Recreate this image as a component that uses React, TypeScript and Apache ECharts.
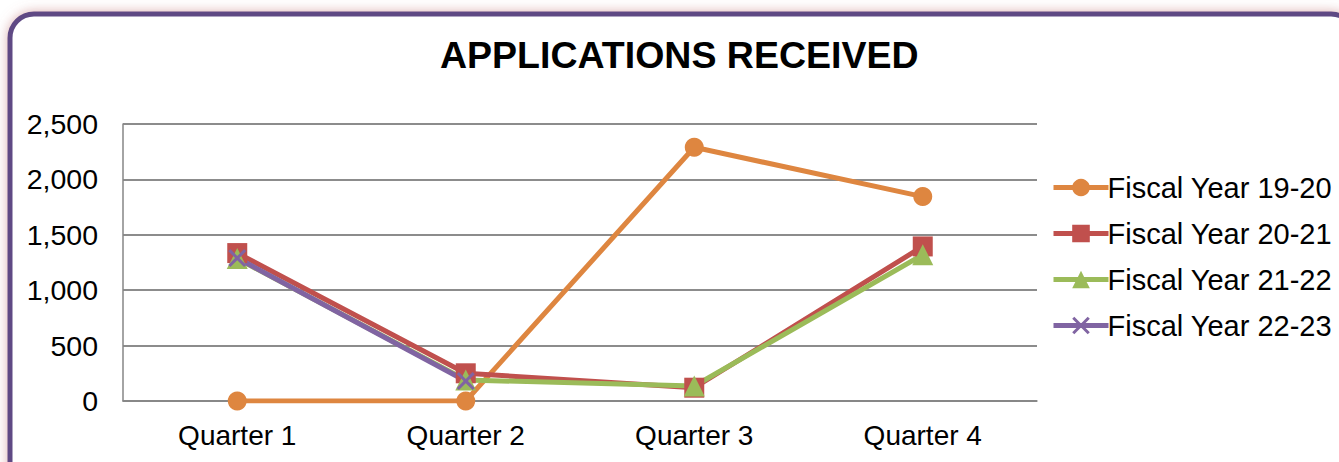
import React, { useEffect, useRef } from "react";
import * as echarts from "echarts";

const categories = ["Quarter 1", "Quarter 2", "Quarter 3", "Quarter 4"];
const seriesNames = ["Fiscal Year 19-20", "Fiscal Year 20-21", "Fiscal Year 21-22", "Fiscal Year 22-23"];
const fy1920 = [0, 0, 2290, 1845];
const fy2021 = [1335, 250, 120, 1395];
const fy2122 = [1285, 190, 135, 1320];
const fy2223: (number | null)[] = [1290, 180, null, null];
const colors = ["#DE8640", "#C0504D", "#9BBB59", "#8064A2"];

const X_PATH = "path://M0,1.2L1.2,0L5,3.8L8.8,0L10,1.2L6.2,5L10,8.8L8.8,10L5,6.2L1.2,10L0,8.8L3.8,5Z";

export default function App() {
  const ref = useRef<HTMLDivElement>(null);
  useEffect(() => {
    if (!ref.current) return;
    const chart = echarts.init(ref.current, undefined, { renderer: "svg" });
    const data = [fy1920, fy2021, fy2122, fy2223];
    const symbols = ["circle", "rect", "triangle", X_PATH];
    const sizes = [19, 20, 21, 18];
    chart.setOption({
      animation: false,
      color: colors,
      textStyle: { fontFamily: "Liberation Sans, Arial, sans-serif" },
      graphic: [
        {
          type: "rect",
          z: -10,
          shape: { x: 10, y: 14, width: 1345, height: 480, r: 24 },
          style: {
            fill: "#ffffff",
            stroke: "#5E4A84",
            lineWidth: 5,
            shadowBlur: 12,
            shadowColor: "rgba(190,110,110,0.55)",
          },
        },
      ],
      title: {
        text: "APPLICATIONS RECEIVED",
        left: 435,
        top: 31,
        textStyle: { fontSize: 37.5, fontWeight: "bold", color: "#000", fontFamily: "Liberation Sans, Arial, sans-serif" },
      },
      legend: {
        orient: "vertical",
        left: 1046,
        top: 168,
        itemWidth: 55,
        itemHeight: 22,
        itemGap: 17,
        lineStyle: { width: 5 },
        textStyle: { fontSize: 29, color: "#000", padding: [0, 0, 0, -6] },
        data: seriesNames,
      },
      grid: { left: 123, right: 302, top: 124, bottom: 61, containLabel: false },
      xAxis: {
        type: "category",
        data: categories,
        boundaryGap: true,
        axisLine: { show: true, lineStyle: { color: "#868686", width: 1.5 } },
        axisTick: { show: false },
        axisLabel: { fontSize: 28, color: "#000", margin: 20 },
      },
      yAxis: {
        type: "value",
        min: 0,
        max: 2500,
        interval: 500,
        axisLine: { show: true, lineStyle: { color: "#868686", width: 1.5 } },
        axisTick: { show: false },
        axisLabel: {
          fontSize: 28.5,
          color: "#000",
          margin: 25,
          formatter: (v: number) => v.toLocaleString("en-US"),
        },
        splitLine: { show: true, lineStyle: { color: "#8C8C8C", width: 2 } },
      },
      series: seriesNames.map((name, i) => ({
        name,
        type: "line",
        data: data[i],
        symbol: symbols[i],
        symbolSize: sizes[i],
        showSymbol: true,
        connectNulls: false,
        lineStyle: { width: 5, color: colors[i] },
        itemStyle: { color: colors[i] },
        emphasis: { disabled: true },
      })),
    });
    return () => chart.dispose();
  }, []);
  return (
    <div style={{ position: "fixed", left: 0, top: 0, width: 1339, height: 462, background: "#fff" }}>
      <div ref={ref} style={{ width: 1339, height: 462 }} />
    </div>
  );
}
